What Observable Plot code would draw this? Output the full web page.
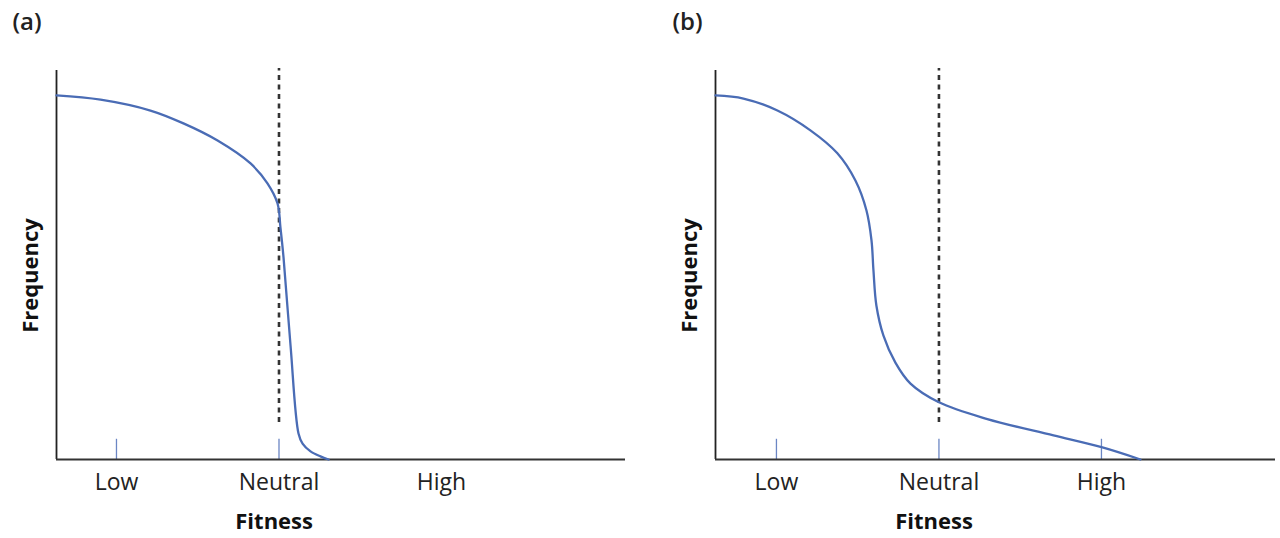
<!DOCTYPE html>
<html>
<head>
<meta charset="utf-8">
<script src="https://cdn.jsdelivr.net/npm/d3@7"></script>
<script src="https://cdn.jsdelivr.net/npm/@observablehq/plot@0.6"></script>
<style>
  html, body { margin: 0; padding: 0; background: #fff; }
  #wrap { display: flex; width: 1280px; height: 538px; }
  #wrap svg { display: block; }
</style>
</head>
<body>
<div id="wrap"></div>
<script>
// Panel (a): fitness (Low=1, Neutral=2, High=3) vs relative frequency (0-100)
const fitnessA = [0.631, 0.902, 1.209, 1.412, 1.622, 1.825, 1.929, 1.991, 2.009, 2.028, 2.071, 2.120, 2.145, 2.194, 2.255, 2.305];
const freqA    = [93.6, 92.5, 89.7, 86.4, 82.0, 76.1, 71.0, 65.8, 59.6, 51.9, 29.3, 6.7, 4.1, 2.1, 0.8, 0.0];
// Panel (b)
const fitnessB = [0.625, 0.797, 1.006, 1.209, 1.375, 1.486, 1.554, 1.585, 1.597, 1.615, 1.658, 1.732, 1.825, 2.0, 2.298, 2.705, 3.006, 3.240];
const freqB    = [93.6, 92.8, 89.7, 84.6, 78.7, 71.7, 64.0, 56.3, 48.6, 39.6, 31.9, 24.9, 19.5, 14.7, 10.4, 6.2, 3.1, 0.0];

const tickValues = [1, 2, 3];
const tickLabels = ["Low", "Neutral", "High"];
const neutral = 2;
const panelLabels = ["(a)", "(b)"];

const FONT = "'Open Sans', 'Noto Sans', sans-serif";
const BLUE = "#4a6cb5";

function panel({fit, freq, label, domain, marginLeft, marginRight, tickShown, dashBottom, labelDx}) {
  const x0 = domain[0];
  return Plot.plot({
    width: 640,
    height: 538,
    marginLeft, marginRight,
    marginTop: 70,
    marginBottom: 79,
    x: {domain, axis: null},
    y: {domain: [0, 100], axis: null},
    style: {fontFamily: FONT, background: "white", overflow: "visible"},
    marks: [
      // dashed neutral line
      Plot.ruleX([neutral], {y1: dashBottom, y2: 100.5, stroke: "#333", strokeWidth: 2.6, strokeDasharray: "5,4.5"}),
      // ticks
      Plot.ruleX(tickValues.filter((d, i) => tickShown[i]), {y1: 0, y2: 5.2, stroke: "#6b86c4", strokeWidth: 1.3}),
      // axes
      Plot.ruleX([x0], {y1: 0, y2: 100, stroke: "#222", strokeWidth: 1.8}),
      Plot.ruleY([0], {x1: x0, x2: domain[1], stroke: "#333", strokeWidth: 2}),
      // curve
      Plot.line(fit, {x: fit, y: freq, curve: "catmull-rom", stroke: BLUE, strokeWidth: 2.3}),
      // tick labels
      Plot.text(tickValues, {x: d => d, y: 0, text: (d, i) => tickLabels[i], dy: 23, fontSize: 23, fill: "#222", lineAnchor: "middle"}),
      // axis titles
      Plot.text(["Fitness"], {x: 1.97, y: 0, dy: 62, fontSize: 22, fontWeight: "bold", fill: "#111", lineAnchor: "middle"}),
      Plot.text(["Frequency"], {x: x0, y: 47.3, dx: -26, rotate: -90, fontSize: 22, fontWeight: "bold", fill: "#111", lineAnchor: "middle"}),
      // panel label
      Plot.text([label], {frameAnchor: "top-left", dx: labelDx, dy: -48, textAnchor: "start", lineAnchor: "middle", fontSize: 24, fontWeight: 600, fill: "#222"})
    ]
  });
}

const wrap = document.getElementById("wrap");
wrap.appendChild(panel({
  fit: fitnessA, freq: freqA, label: panelLabels[0],
  domain: [0.631, 4.132], marginLeft: 56, marginRight: 15,
  tickShown: [true, true, false], dashBottom: 9.5, labelDx: -44
}));
wrap.appendChild(panel({
  fit: fitnessB, freq: freqB, label: panelLabels[1],
  domain: [0.625, 4.071], marginLeft: 75, marginRight: 5,
  tickShown: [true, true, true], dashBottom: 9.5, labelDx: -43
}));
</script>
</body>
</html>
